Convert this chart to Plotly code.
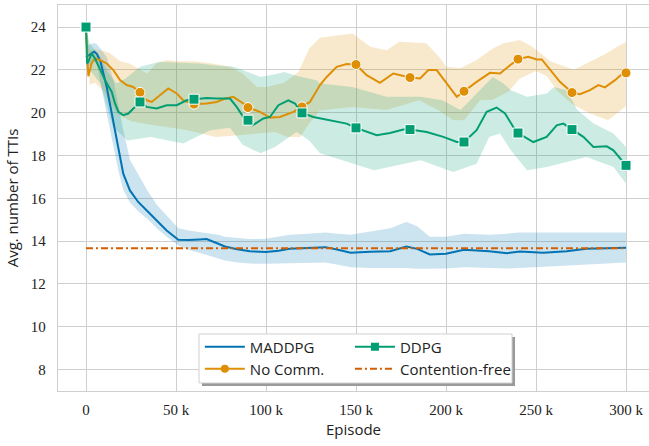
import plotly.graph_objects as go

# --------------------------------------------------------------- #
#### Data (episodes in thousands) ####
# --------------------------------------------------------------- #

maddpg_ep = [0, 2, 4.5, 6, 8, 11.5, 15, 18, 20.7, 24.4, 29, 34.6, 39.3, 44.8, 51.3, 57, 63.3, 67, 73.5,
             77.2, 84, 91, 100, 107, 113, 123, 133, 140, 147, 158, 169, 178, 184, 191, 200, 210, 224,
             234, 241, 254, 267, 278, 290, 300]
maddpg_mean = [22.6, 22.7, 22.85, 22.75, 22.4, 21.2, 19.6, 18.24, 17.15, 16.37, 15.83, 15.36, 14.97, 14.5,
               14.06, 14.05, 14.08, 14.1, 13.88, 13.75, 13.62, 13.53, 13.49, 13.55, 13.64, 13.68, 13.72,
               13.6, 13.46, 13.5, 13.53, 13.75, 13.64, 13.38, 13.41, 13.6, 13.53, 13.44, 13.52, 13.46,
               13.53, 13.64, 13.66, 13.69]
maddpg_hi = [23.0, 23.2, 23.25, 23.2, 23.0, 22.6, 21.6, 20.3, 19.2, 17.8, 17.1, 16.3, 15.7, 15.2, 14.6,
             14.5, 14.42, 14.4, 14.3, 14.2, 14.15, 14.1, 14.11, 14.2, 14.3, 14.35, 14.4, 14.35, 14.3,
             14.45, 14.6, 14.89, 14.7, 14.2, 14.2, 14.35, 14.3, 14.35, 14.4, 14.4, 14.4, 14.4, 14.4, 14.4]
maddpg_lo = [22.2, 22.2, 22.4, 22.3, 21.4, 20.0, 18.6, 17.3, 16.4, 15.8, 15.4, 15.0, 14.6, 14.2, 13.8,
             13.6, 13.45, 13.35, 13.2, 13.1, 13.0, 12.95, 12.94, 12.95, 12.98, 13.0, 13.0, 12.9, 12.78,
             12.75, 12.75, 12.75, 12.71, 12.7, 12.72, 12.78, 12.75, 12.72, 12.75, 12.8, 12.85, 12.9,
             12.95, 13.0]

nocomm_ep = [0, 1.3, 3.1, 5, 7.8, 11.5, 15.2, 18.9, 22.6, 26.3, 30, 33.7, 36.5, 41.1, 45.7, 50.4, 54, 60,
             67, 72.6, 77, 81.8, 87.4, 90, 96.7, 102.2, 107.8, 115.2, 120, 124.4, 130, 133.7, 139.3,
             144.8, 150, 155.9, 163.3, 170.7, 180, 185.6, 190.2, 194.8, 200.4, 206, 210, 217, 224.4,
             230, 235.6, 240, 245.7, 250.4, 253.2, 257.8, 263.3, 270, 274.4, 280, 284.6, 288.3, 293.9,
             298.5, 300]
nocomm_mean = [24.0, 21.7, 22.3, 22.53, 22.46, 22.3, 21.99, 21.52, 21.29, 21.2, 20.95, 20.58, 20.5, 20.82,
               21.13, 20.9, 20.58, 20.4, 20.43, 20.5, 20.65, 20.74, 20.43, 20.24, 20.04, 19.77, 19.8,
               20.04, 20.27, 20.5, 21.29, 21.67, 22.14, 22.27, 22.25, 21.75, 21.39, 21.83, 21.64, 21.6,
               21.99, 21.99, 21.37, 20.74, 21.0, 21.44, 21.86, 21.83, 22.22, 22.5, 22.61, 22.49, 22.49,
               21.99, 21.44, 20.94, 20.86, 21.05, 21.29, 21.18, 21.52, 21.86, 21.86]
nocomm_hi_ep = [0, 2, 5, 8, 13, 19, 24, 30, 34, 39, 45, 50, 60, 70, 80, 87, 95, 100, 110, 118, 124, 130,
                139, 148, 158, 167, 174, 189, 197, 200, 208, 217, 226, 232, 241, 248, 258, 265, 271, 278,
                289, 295, 300]
nocomm_hi = [24.0, 22.9, 22.95, 22.92, 22.8, 22.4, 22.3, 22.0, 21.83, 22.3, 22.46, 22.4, 22.4, 22.3,
             22.14, 21.83, 21.2, 21.2, 21.4, 21.9, 23.0, 23.5, 23.6, 23.7, 23.08, 22.92, 23.31, 23.24,
             22.53, 22.14, 22.07, 22.46, 23.0, 23.24, 23.39, 23.08, 22.4, 22.2, 22.0, 22.3, 22.77, 23.08,
             23.3]
nocomm_lo_ep = [0, 2, 5, 10, 17, 25, 35, 45, 55, 65, 72, 85, 97, 105, 112, 119, 124, 130, 148, 167, 185,
                196, 204, 210, 219, 226, 235, 241, 250, 256, 262, 270, 280, 290, 300]
nocomm_lo = [24.0, 21.3, 21.4, 21.0, 19.96, 19.6, 19.45, 19.33, 19.2, 19.0, 18.87, 18.95, 19.03, 19.1,
             18.87, 18.87, 19.5, 20.1, 20.27, 20.12, 20.58, 20.1, 19.65, 19.65, 20.58, 20.6, 21.0, 21.6,
             21.95, 21.7, 21.0, 20.4, 19.96, 19.65, 20.3]

ddpg_ep = [0, 0.6, 1.3, 3.1, 5, 7.8, 10.6, 14.3, 16.1, 18, 20.7, 23.5, 26.3, 30, 33.7, 39.3, 44.8, 50.4,
           55.9, 60, 67, 72.6, 80, 83.7, 87.4, 90, 92.6, 98.5, 102.2, 106.9, 112.4, 116.1, 120, 126.3,
           135.6, 144.8, 150, 161.5, 168.9, 176.3, 180, 189.3, 198.5, 206, 210, 217, 222.6, 228.1,
           232.8, 237.4, 240, 248.5, 255.9, 261.5, 265.2, 270, 276.3, 281.9, 289.3, 293, 300]
ddpg_mean = [24.0, 22.3, 22.38, 22.77, 22.53, 21.99, 21.52, 20.97, 20.43, 20.04, 19.88, 19.96, 20.2, 20.5,
             20.27, 20.2, 20.35, 20.35, 20.58, 20.63, 20.69, 20.66, 20.66, 20.27, 19.8, 19.65, 19.41,
             19.73, 19.8, 20.35, 20.58, 20.43, 19.99, 19.8, 19.65, 19.49, 19.29, 18.95, 19.05, 19.21,
             19.21, 19.1, 18.87, 18.63, 18.63, 19.18, 20.04, 20.24, 19.96, 19.33, 19.05, 18.63, 18.87,
             19.41, 19.49, 19.21, 18.87, 18.4, 18.43, 18.24, 17.54]
ddpg_hi_ep = [0, 2, 8, 12, 17, 22, 30, 41, 50, 63, 72, 82, 90, 97, 105, 110, 118, 128, 130, 148, 167, 186,
              198, 208, 217, 226, 232, 236, 245, 256, 260, 267, 273, 282, 293, 300]
ddpg_hi = [24.0, 23.24, 22.61, 21.9, 21.36, 21.6, 22.14, 22.38, 22.35, 22.3, 22.2, 22.14, 21.9, 21.67, 21.8,
           21.9, 21.7, 21.52, 21.36, 21.2, 20.74, 20.74, 20.58, 20.12, 20.9, 21.67, 21.36, 21.05, 20.74,
           20.9, 21.2, 21.05, 20.12, 19.5, 19.03, 18.4]
ddpg_lo_ep = [0, 2, 8, 15, 23, 36, 54, 69, 80, 87, 97, 105, 117, 124, 130, 148, 160, 186, 204, 217, 224,
              230, 236, 245, 256, 278, 293, 300]
ddpg_lo = [24.0, 22.0, 21.36, 19.33, 18.7, 18.87, 18.56, 19.18, 19.3, 18.5, 18.1, 18.4, 19.1, 18.7, 18.1,
           17.62, 17.31, 17.78, 17.23, 17.62, 18.87, 19.03, 18.24, 17.31, 17.46, 17.93, 17.46, 16.69]

contention_free = 13.67
cf_ep = [0, 300]

x_ticks = [0, 50, 100, 150, 200, 250, 300]
x_tick_labels = ['0', '50 k', '100 k', '150 k', '200 k', '250 k', '300 k']
y_ticks = [8, 10, 12, 14, 16, 18, 20, 22, 24]

BLUE = '#0173b2'
ORANGE = '#de8f05'
GREEN = '#029e73'
RED = '#d55e00'

# --------------------------------------------------------------- #
#### Helpers ####
# --------------------------------------------------------------- #

def k(ep):
    return [e * 1000 for e in ep]

def rgba(hex_color, a):
    h = hex_color.lstrip('#')
    return 'rgba(%d,%d,%d,%s)' % (int(h[0:2], 16), int(h[2:4], 16), int(h[4:6], 16), a)

def band(fig, ep_hi, hi, ep_lo, lo, color):
    fig.add_scatter(x=k(ep_hi), y=hi, mode='lines', line=dict(width=0), showlegend=False, hoverinfo='skip')
    fig.add_scatter(x=k(ep_lo), y=lo, mode='lines', line=dict(width=0), fill='tonexty',
                    fillcolor=rgba(color, 0.2), showlegend=False, hoverinfo='skip')

def every_30k(ep, vals):
    pts = [(e, v) for e, v in zip(ep, vals) if e % 30 == 0]
    return [p[0] for p in pts], [p[1] for p in pts]

# --------------------------------------------------------------- #
#### Figure ####
# --------------------------------------------------------------- #

fig = go.Figure()

band(fig, maddpg_ep, maddpg_hi, maddpg_ep, maddpg_lo, BLUE)
band(fig, nocomm_hi_ep, nocomm_hi, nocomm_lo_ep, nocomm_lo, ORANGE)
band(fig, ddpg_hi_ep, ddpg_hi, ddpg_lo_ep, ddpg_lo, GREEN)

fig.add_scatter(x=k(maddpg_ep), y=maddpg_mean, mode='lines', line=dict(color=BLUE, width=2),
                showlegend=False)
fig.add_scatter(x=k(nocomm_ep), y=nocomm_mean, mode='lines', line=dict(color=ORANGE, width=2),
                showlegend=False)
mx, my = every_30k(nocomm_ep, nocomm_mean)
fig.add_scatter(x=k(mx), y=my, mode='markers', showlegend=False,
                marker=dict(symbol='circle', size=10, color=ORANGE, line=dict(color='white', width=1)))
fig.add_scatter(x=k(ddpg_ep), y=ddpg_mean, mode='lines', line=dict(color=GREEN, width=2),
                showlegend=False)
mx, my = every_30k(ddpg_ep, ddpg_mean)
fig.add_scatter(x=k(mx), y=my, mode='markers', showlegend=False,
                marker=dict(symbol='square', size=10, color=GREEN, line=dict(color='white', width=1)))
fig.add_scatter(x=k(cf_ep), y=[contention_free] * len(cf_ep), mode='lines', showlegend=False,
                line=dict(color=RED, width=2, dash='7px,3px,2px,3px'))

# legend entries: one small legend per cell of the 2x2 grid
fig.add_scatter(x=[None], y=[None], mode='lines', name='MADDPG', line=dict(color=BLUE, width=2),
                legend='legend')
fig.add_scatter(x=[None], y=[None], mode='lines+markers', name='DDPG', line=dict(color=GREEN, width=2),
                marker=dict(symbol='square', size=8, color=GREEN), legend='legend2')
fig.add_scatter(x=[None], y=[None], mode='lines+markers', name='No Comm.', line=dict(color=ORANGE, width=2),
                marker=dict(symbol='circle', size=8, color=ORANGE), legend='legend3')
fig.add_scatter(x=[None], y=[None], mode='lines', name='Contention-free',
                line=dict(color=RED, width=2, dash='7px,3px,2px,3px'), legend='legend4')

GRID = '#cfcfcf'
SANS = 'Open Sans, DejaVu Sans, sans-serif'
SERIF = 'Liberation Serif, DejaVu Serif, serif'

leg = dict(xanchor='left', yanchor='middle', bgcolor='rgba(0,0,0,0)', itemwidth=40,
           font=dict(family=SANS, size=15, color='#222'))

fig.update_layout(
    width=649, height=446,
    margin=dict(l=58, r=0, t=5, b=55),
    plot_bgcolor='white', paper_bgcolor='white',
    legend=dict(leg, x=0.240, y=0.114),
    legend2=dict(leg, x=0.494, y=0.114),
    legend3=dict(leg, x=0.240, y=0.057),
    legend4=dict(leg, x=0.494, y=0.057),
    shapes=[
        dict(type='rect', xref='paper', yref='paper', x0=0.2436, x1=0.7733, y0=0.0130, y1=0.1399,
             fillcolor='#9a9a9a', line=dict(width=0), layer='above'),
        dict(type='rect', xref='paper', yref='paper', x0=0.2386, x1=0.7682, y0=0.0207, y1=0.1477,
             fillcolor='white', line=dict(color='#d0d0d0', width=1), layer='above'),
    ],
    xaxis=dict(range=[-15556, 312778], tickvals=k(x_ticks), ticktext=x_tick_labels, automargin=False,
               showgrid=True, gridcolor=GRID, gridwidth=1.3, zeroline=False,
               showline=True, linecolor=GRID, linewidth=1.3, mirror=True,
               tickfont=dict(family=SERIF, size=15, color='#222'), ticklabelstandoff=5,
               title=dict(text='Episode', font=dict(family=SANS, size=15, color='#222'), standoff=7)),
    yaxis=dict(range=[7.0, 25.03], tickvals=y_ticks, showgrid=True, gridcolor=GRID, gridwidth=1.3,
               zeroline=False, showline=True, linecolor=GRID, linewidth=1.3, automargin=False,
               tickfont=dict(family=SERIF, size=15, color='#222'), ticklabelstandoff=8,
               title=dict(text='Avg. number of TTIs', font=dict(family=SANS, size=15, color='#222'),
                          standoff=8)),
)

# the page body has a default 8px margin; drop it so the figure sits at the top-left corner
fig.write_html("out.html", config={'displayModeBar': False},
               post_script="document.body.style.margin='0';")
